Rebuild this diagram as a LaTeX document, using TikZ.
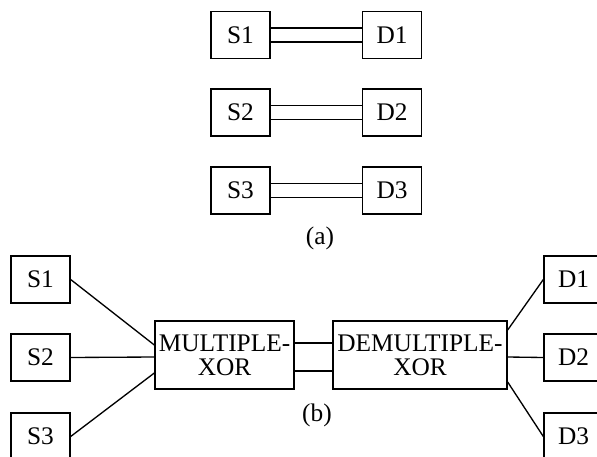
\documentclass[tikz,border=0pt]{standalone}
\usepackage{fontspec}
\setmainfont{Liberation Serif}
\begin{document}
\begin{tikzpicture}[x=0.75pt,y=-0.75pt,
  box/.style={draw,line width=1pt,minimum width=44.25pt,minimum height=35.25pt,inner sep=0pt,font=\fontsize{19}{21}\selectfont},
  bigbox/.style={draw,line width=1pt,minimum height=51pt,inner sep=0pt,align=center,font=\fontsize{19}{18}\selectfont},
  wire/.style={line width=1pt},
  lbl/.style={font=\fontsize{19}{21}\selectfont,inner sep=0pt}]
\useasboundingbox (0,0) rectangle (597,457);
\clip (0,0) rectangle (597,457);
% (a)
\node[box] (as1) at (240.5,35) {S1};
\node[box] (ad1) at (392,35) {D1};
\node[box] (as2) at (240.5,112.5) {S2};
\node[box] (ad2) at (392,112.5) {D2};
\node[box] (as3) at (240.5,190.5) {S3};
\node[box] (ad3) at (392,190.5) {D3};
\foreach \i in {1,2,3}{
  \draw[wire] ([yshift=5.25pt]as\i.east) -- ([yshift=5.25pt]ad\i.west);
  \draw[wire] ([yshift=-5.25pt]as\i.east) -- ([yshift=-5.25pt]ad\i.west);
}
\node[lbl] (la) at (320,238) {(a)};
% (b)
\node[box] (bs1) at (40.5,279.5) {S1};
\node[box] (bs2) at (40.5,357.5) {S2};
\node[box] (bs3) at (40.5,436.5) {S3};
\node[box] (bd1) at (573.5,279.5) {D1};
\node[box] (bd2) at (573.5,357.5) {D2};
\node[box] (bd3) at (573.5,436.5) {D3};
\node[bigbox,minimum width=104.25pt] (mux) at (224.5,355) {MULTIPLE-\\XOR};
\node[bigbox,minimum width=130.5pt] (demux) at (420,355) {DEMULTIPLE-\\XOR};
\draw[wire] (bs1.east) -- ([yshift=7.5pt]mux.west);
\draw[wire] (bs2.east) -- ([yshift=-1.5pt]mux.west);
\draw[wire] (bs3.east) -- ([yshift=-13.5pt]mux.west);
\draw[wire] ([yshift=9pt]mux.east) -- ([yshift=9pt]demux.west);
\draw[wire] ([yshift=-12pt]mux.east) -- ([yshift=-12pt]demux.west);
\draw[wire] ([yshift=18.75pt]demux.east) -- (bd1.west);
\draw[wire] ([yshift=-1.5pt]demux.east) -- (bd2.west);
\draw[wire] ([yshift=-20.25pt]demux.east) -- (bd3.west);
\node[lbl] (lb) at (317,415) {(b)};
\end{tikzpicture}
\end{document}
